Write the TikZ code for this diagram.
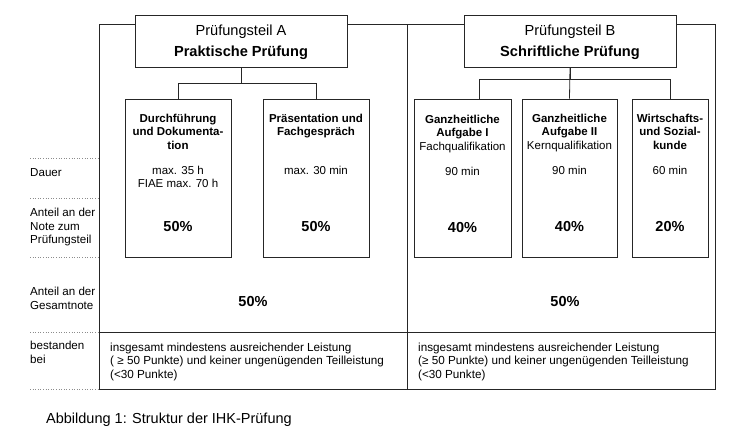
\documentclass[tikz,border=0pt]{standalone}
\usepackage{fontspec}
\setmainfont{Liberation Sans}
\usepackage{tikz}

\tikzset{
    frame/.style={draw=black!85, line width=0.8pt},
    headbox/.style={draw=black!85, line width=0.8pt, fill=white, align=center,
        minimum width=212pt, minimum height=52pt, inner sep=0pt, text depth=0pt,
        font=\fontsize{14.6}{21}\selectfont},
    partbox/.style={draw=black!85, line width=0.8pt, fill=white,
        minimum height=158pt, inner sep=0pt},
    titletext/.style={anchor=north, inner sep=0pt, align=center,
        font=\bfseries\fontsize{11.5}{13.5}\selectfont},
    durtext/.style={anchor=north, inner sep=0pt, align=center,
        font=\fontsize{11.5}{13.5}\selectfont},
    pcttext/.style={inner sep=0pt, font=\bfseries\fontsize{14.5}{16}\selectfont},
    rowlabel/.style={anchor=west, inner sep=0pt, align=left,
        font=\fontsize{11.6}{13.8}\selectfont},
    passtext/.style={anchor=north west, inner sep=0pt, align=left,
        font=\fontsize{11.7}{13.6}\selectfont},
    sepline/.style={draw=black!45, dotted, line width=0.6pt},
    link/.style={draw=black!85, line width=0.8pt}
}

\begin{document}
\begin{tikzpicture}[x=1pt, y=-1pt]
    \useasboundingbox (0,0) rectangle (750,439);
    % The outer frame with its two columns.
        \draw[frame] (99,24.5) rectangle (715,389);
        \draw[frame] (407,24.5) -- (407,389);
        \draw[frame] (99,332) -- (715,332);
    % Dotted lines of the rows.
        \foreach \y in {158,198,257,332,389}
            \draw[sepline] (30,\y) -- (99,\y);
    % Heads of the two parts.
        \node[headbox] (teilA) at (241,41) {Prüfungsteil A\\\textbf{Praktische Prüfung}};
        \node[headbox] (teilB) at (570,41) {Prüfungsteil B\\\textbf{Schriftliche Prüfung}};
    % The boxes of the single exams.
        \node[partbox, minimum width=106pt] (durch) at (178,178) {};
        \node[partbox, minimum width=106pt] (praes) at (316,178) {};
        \node[partbox, minimum width=97pt] (ganzA) at (462.5,178) {};
        \node[partbox, minimum width=95pt] (ganzB) at (569.5,178) {};
        \node[partbox, minimum width=76pt] (wiso) at (670,178) {};
    % Connectors from the heads down to the boxes.
        \draw[link] (teilA.south) -- ++(0,16) -| (durch.north);
        \draw[link] (teilA.south) -- ++(0,16) -| (praes.north);
        \draw[link] (teilB.south) -- ++(0,12) -| ([xshift=16.5pt]ganzA.north);
        \draw[link] (teilB.south) -- (ganzB.north);
        \draw[link] (teilB.south) -- ++(0,12) -| (wiso.north);
    % Below nodes are the texts in the boxes.
        \node[titletext] (durchT) at ([yshift=-15pt]durch.north) {Durchführung\\und Dokumenta-\\tion};
        \node[titletext] (praesT) at ([yshift=-15pt]praes.north) {Präsentation und\\Fachgespräch};
        \node[titletext] (ganzAT) at ([yshift=-16pt]ganzA.north) {Ganzheitliche\\Aufgabe I\\\mdseries Fachqualifikation};
        \node[titletext] (ganzBT) at ([yshift=-15pt]ganzB.north) {Ganzheitliche\\Aufgabe II\\\mdseries Kernqualifikation};
        \node[titletext] (wisoT) at ([yshift=-15pt]wiso.north) {Wirtschafts-\\und Sozial-\\kunde};
        \node[durtext] (durchD) at ([yshift=-67pt]durch.north) {max. 35 h\\FIAE max. 70 h};
        \node[durtext] (praesD) at ([yshift=-67pt]praes.north) {max. 30 min};
        \node[durtext] (ganzAD) at ([yshift=-68pt]ganzA.north) {90 min};
        \node[durtext] (ganzBD) at ([yshift=-67pt]ganzB.north) {90 min};
        \node[durtext] (wisoD) at ([yshift=-67pt]wiso.north) {60 min};
        \node[pcttext] (durchP) at ([yshift=31pt]durch.south) {50\%};
        \node[pcttext] (praesP) at ([yshift=31pt]praes.south) {50\%};
        \node[pcttext] (ganzAP) at ([yshift=30pt]ganzA.south) {40\%};
        \node[pcttext] (ganzBP) at ([yshift=31pt]ganzB.south) {40\%};
        \node[pcttext] (wisoP) at ([yshift=31pt]wiso.south) {20\%};
    % Share of the whole mark.
        \node[pcttext] (gesA) at (253,302) {50\%};
        \node[pcttext] (gesB) at (565,302) {50\%};
    % Pass rules.
        \node[passtext] (passA) at (110,342.5) {insgesamt mindestens ausreichender Leistung\\( ≥ 50 Punkte) und keiner ungenügenden Teilleistung\\(<30 Punkte)};
        \node[passtext] (passB) at (418,342.5) {insgesamt mindestens ausreichender Leistung\\(≥ 50 Punkte) und keiner ungenügenden Teilleistung\\(<30 Punkte)};
    % Labels of the rows.
        \node[rowlabel] (dauer) at (30,173) {Dauer};
        \node[rowlabel] (anteilT) at (30,227) {Anteil an der\\Note zum\\Prüfungsteil};
        \node[rowlabel] (anteilG) at (30,298.5) {Anteil an der\\Gesamtnote};
        \node[rowlabel] (bestanden) at (30,352.5) {bestanden\\bei};
    % Caption.
        \node[anchor=west, inner sep=0pt, font=\fontsize{14.5}{17}\selectfont] (caption) at (46,420) {Abbildung 1: Struktur der IHK-Prüfung};
\end{tikzpicture}
\end{document}
